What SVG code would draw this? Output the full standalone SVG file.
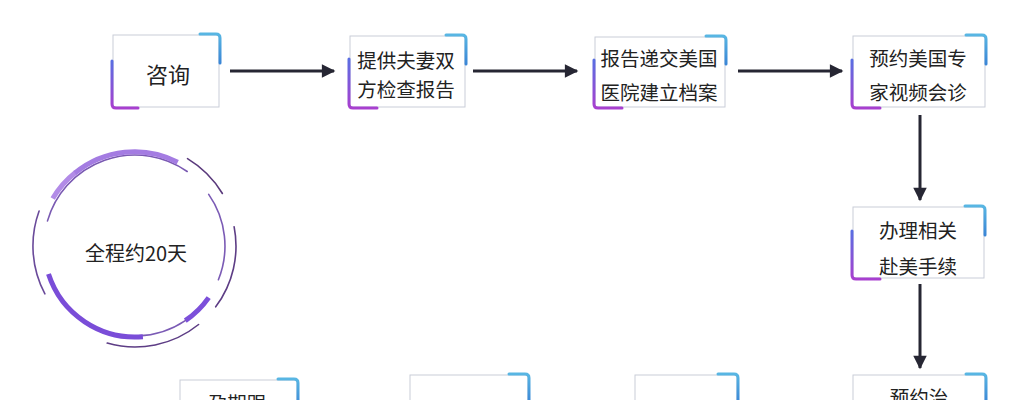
<svg xmlns="http://www.w3.org/2000/svg" width="1033" height="400" viewBox="0 0 1033 400">
  <defs>
    <linearGradient id="gl" x1="0" y1="0" x2="0" y2="1">
      <stop offset="0" stop-color="#5a6ee2"/>
      <stop offset="1" stop-color="#a83fcf"/>
    </linearGradient>
    <linearGradient id="gt" x1="0" y1="0" x2="0" y2="1">
      <stop offset="0" stop-color="#58b6e3"/>
      <stop offset="1" stop-color="#3a86d6"/>
    </linearGradient>
    <marker id="ah" viewBox="0 0 10 10" refX="9" refY="5" markerWidth="5.5" markerHeight="4.5" orient="auto" markerUnits="strokeWidth">
      <path d="M0 0 L10 5 L0 10 Z" fill="#262633"/>
    </marker>
  </defs>
  <style>
    .box { fill: #ffffff; stroke: #c9cdd8; stroke-width: 1; }
    .acl { fill: none; stroke: url(#gl); stroke-width: 3; stroke-linecap: round; stroke-linejoin: round; }
    .act { fill: none; stroke: url(#gt); stroke-width: 3; stroke-linecap: round; stroke-linejoin: round; }
    .t { font-family: "Noto Sans CJK SC", "Noto Sans", sans-serif; font-size: 19.5px; fill: #222222; text-anchor: middle; dominant-baseline: central; }
    .conn { stroke: #262633; stroke-width: 3; fill: none; marker-end: url(#ah); }
    .thin { fill: none; stroke-width: 1.6; stroke-linecap: round; }
    .thick { fill: none; stroke-width: 5; stroke-linecap: butt; }
  </style>
  <rect width="1033" height="400" fill="#ffffff"/>

  <g id="connectors">
    <line class="conn" x1="230" y1="71" x2="334" y2="71"/>
    <line class="conn" x1="473" y1="71" x2="577" y2="71"/>
    <line class="conn" x1="738" y1="71" x2="842" y2="71"/>
    <line class="conn" x1="920" y1="115" x2="920" y2="200"/>
    <line class="conn" x1="920" y1="284" x2="920" y2="368"/>
  </g>

  <g id="n1">
    <rect class="box" x="113" y="35" width="106" height="72"/>
    <path class="acl" d="M112 61 V104 Q112 108 116 108 H138"/>
    <path class="act" d="M200 34 H216 Q220 34 220 38 V63"/>
    <text class="t" x="168" y="73" style="font-size:22px">咨询</text>
  </g>

  <g id="n2">
    <rect class="box" x="350" y="36" width="115" height="71"/>
    <path class="acl" d="M349 59 V104 Q349 108 353 108 H377"/>
    <path class="act" d="M446 35 H462 Q466 35 466 39 V64"/>
    <text class="t" x="406" y="59">提供夫妻双</text>
    <text class="t" x="406" y="88">方检查报告</text>
  </g>

  <g id="n3">
    <rect class="box" x="595" y="37" width="130" height="70"/>
    <path class="acl" d="M594 60 V104 Q594 108 598 108 H622"/>
    <path class="act" d="M706 36 H722 Q726 36 726 40 V64"/>
    <text class="t" x="659" y="57">报告递交美国</text>
    <text class="t" x="659" y="91">医院建立档案</text>
  </g>

  <g id="n4">
    <rect class="box" x="853" y="36" width="132" height="71"/>
    <path class="acl" d="M852 60 V104 Q852 108 856 108 H880"/>
    <path class="act" d="M966 35 H982 Q986 35 986 39 V64"/>
    <text class="t" x="918" y="57">预约美国专</text>
    <text class="t" x="918" y="91">家视频会诊</text>
  </g>

  <g id="n5">
    <rect class="box" x="853" y="207" width="131" height="71"/>
    <path class="acl" d="M852 231 V275 Q852 279 856 279 H880"/>
    <path class="act" d="M965 206 H981 Q985 206 985 210 V235"/>
    <text class="t" x="918" y="229">办理相关</text>
    <text class="t" x="918" y="265">赴美手续</text>
  </g>

  <g id="n6">
    <rect class="box" x="853" y="375" width="132" height="71"/>
    <path class="act" d="M966 374 H982 Q986 374 986 378 V403"/>
    <text class="t" x="919" y="396">预约治</text>
  </g>

  <g id="n7">
    <rect class="box" x="635" y="375" width="102" height="71"/>
    <path class="act" d="M718 374 H734 Q738 374 738 378 V403"/>
  </g>

  <g id="n8">
    <rect class="box" x="410" y="375" width="118" height="71"/>
    <path class="act" d="M509 374 H525 Q529 374 529 378 V403"/>
  </g>

  <g id="n9">
    <rect class="box" x="180" y="380" width="117" height="71"/>
    <path class="act" d="M278 379 H294 Q298 379 298 383 V408"/>
    <text class="t" x="237" y="402">孕期跟</text>
  </g>

  <g id="total">
    <path class="thin" stroke="#7a5ab2" d="M47.5 220.9 A91 91 0 0 1 187.2 171.5"/>
    <path class="thick" stroke="#b28be7" d="M52.7 198.5 A95 95 0 0 1 75.8 172.2"/>
    <path class="thick" stroke="#a47ce2" d="M75.0 173.0 A94 94 0 0 1 177.7 162.2"/>
    <path class="thin" stroke="#6a4a9a" d="M44.9 293.9 A102 102 0 0 1 39.1 211.1"/>
    <path class="thin" stroke="#5a3a7c" d="M187.5 158.6 A102 102 0 0 1 222.4 193.5"/>
    <path class="thin" stroke="#7b5bb5" d="M208.7 194.4 A90 90 0 0 1 218.4 279.7"/>
    <path class="thin" stroke="#5d3d85" d="M234.1 226.7 A101 101 0 0 1 215.7 306.8"/>
    <path class="thick" stroke="#7c50da" d="M208.7 297.6 A90 90 0 0 1 185.3 320.6"/>
    <path class="thin" stroke="#7b5bb5" d="M185.3 320.6 A90 90 0 0 1 138.1 335.9"/>
    <path class="thick" stroke="#7a4dd8" d="M142.9 336.7 A91 91 0 0 1 48.5 274.1"/>
    <path class="thin" stroke="#5d3d85" d="M198.6 324.5 A101 101 0 0 1 107.2 343.1"/>
    <text class="t" x="136" y="252" style="font-size:20px">全程约20天</text>
  </g>
</svg>
